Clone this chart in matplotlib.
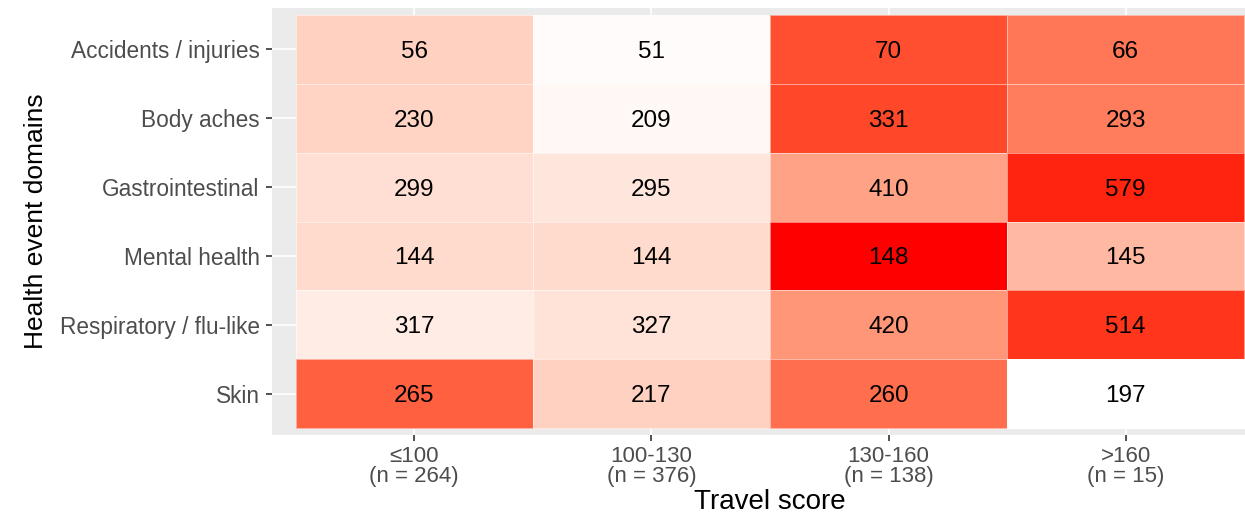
import numpy as np
import matplotlib
matplotlib.use("Agg")
import matplotlib.pyplot as plt
from matplotlib.colors import ListedColormap

plt.rcParams['font.family'] = ['Liberation Sans', 'DejaVu Sans']

domains = ["Accidents / injuries", "Body aches", "Gastrointestinal",
           "Mental health", "Respiratory / flu-like", "Skin"]
scores = ["\u2264100\n(n = 264)", "100-130\n(n = 376)",
          "130-160\n(n = 138)", ">160\n(n = 15)"]

counts = np.array([
    [56, 51, 70, 66],
    [230, 209, 331, 293],
    [299, 295, 410, 579],
    [144, 144, 148, 145],
    [317, 327, 420, 514],
    [265, 217, 260, 197],
])

# fill level (0 = white, 1 = red)
fill_level = np.array([
    [0.24, 0.02, 0.84, 0.68],
    [0.23, 0.04, 0.87, 0.66],
    [0.17, 0.13, 0.48, 0.96],
    [0.19, 0.19, 1.00, 0.37],
    [0.10, 0.15, 0.54, 0.92],
    [0.78, 0.24, 0.72, 0.00],
])


# white -> red in Lab space, like ggplot's scale_fill_gradient
def lab_to_rgb(L, a, b):
    fy = (L + 16) / 116
    fx = fy + a / 500
    fz = fy - b / 200
    def finv(t):
        return np.where(t > 6 / 29, t ** 3, 3 * (6 / 29) ** 2 * (t - 4 / 29))
    X = 0.95047 * finv(fx)
    Y = 1.0 * finv(fy)
    Z = 1.08883 * finv(fz)
    r = 3.2406 * X - 1.5372 * Y - 0.4986 * Z
    g = -0.9689 * X + 1.8758 * Y + 0.0415 * Z
    bb = 0.0557 * X - 0.2040 * Y + 1.0570 * Z
    rgb = np.stack([r, g, bb], axis=-1)
    rgb = np.where(rgb <= 0.0031308, 12.92 * rgb, 1.055 * np.abs(rgb) ** (1 / 2.4) - 0.055)
    return np.clip(rgb, 0, 1)


t = np.linspace(0, 1, 256)
L = 100 + (53.24 - 100) * t
A = 0 + 80.09 * t
B = 0 + 67.20 * t
cmap = ListedColormap(lab_to_rgb(L, A, B))

fig = plt.figure(figsize=(12.45, 5.17), dpi=100)
ax = fig.add_axes([272 / 1245, 82 / 517, 996 / 1245, 427 / 517])
ax.set_facecolor("#EBEBEB")

xe = np.arange(len(scores) + 1) - 0.5
ye = np.arange(len(domains) + 1) - 0.5
ax.pcolormesh(xe, ye, fill_level, cmap=cmap, vmin=0, vmax=1,
              edgecolor=(1, 1, 1, 0.5), linewidth=0.6, zorder=2)

for i in range(len(domains)):
    for j in range(len(scores)):
        ax.text(j, i, str(counts[i, j]), ha="center", va="center_baseline",
                fontsize=17.5, color="black", zorder=3)

ax.set_xlim(-0.6, len(scores) - 0.4)
ax.set_ylim(len(domains) - 0.4, -0.6)
ax.set_xticks(range(len(scores)))
ax.set_xticklabels(scores, fontsize=16, color="#4D4D4D", linespacing=0.95)
ax.set_yticks(range(len(domains)))
ax.set_yticklabels(domains, fontsize=16.3, color="#4D4D4D")
ax.grid(True, color="white", linewidth=1.2, zorder=1)
ax.set_axisbelow(True)
ax.tick_params(length=4, width=1.2, color="#333333")
ax.tick_params(axis="y", pad=5)
ax.tick_params(axis="x", pad=4)
for s in ax.spines.values():
    s.set_visible(False)

ax.set_xlabel("Travel score", fontsize=20, labelpad=1)
ax.set_ylabel("Health event domains", fontsize=19, labelpad=8)

fig.savefig("out.png", dpi=100)
